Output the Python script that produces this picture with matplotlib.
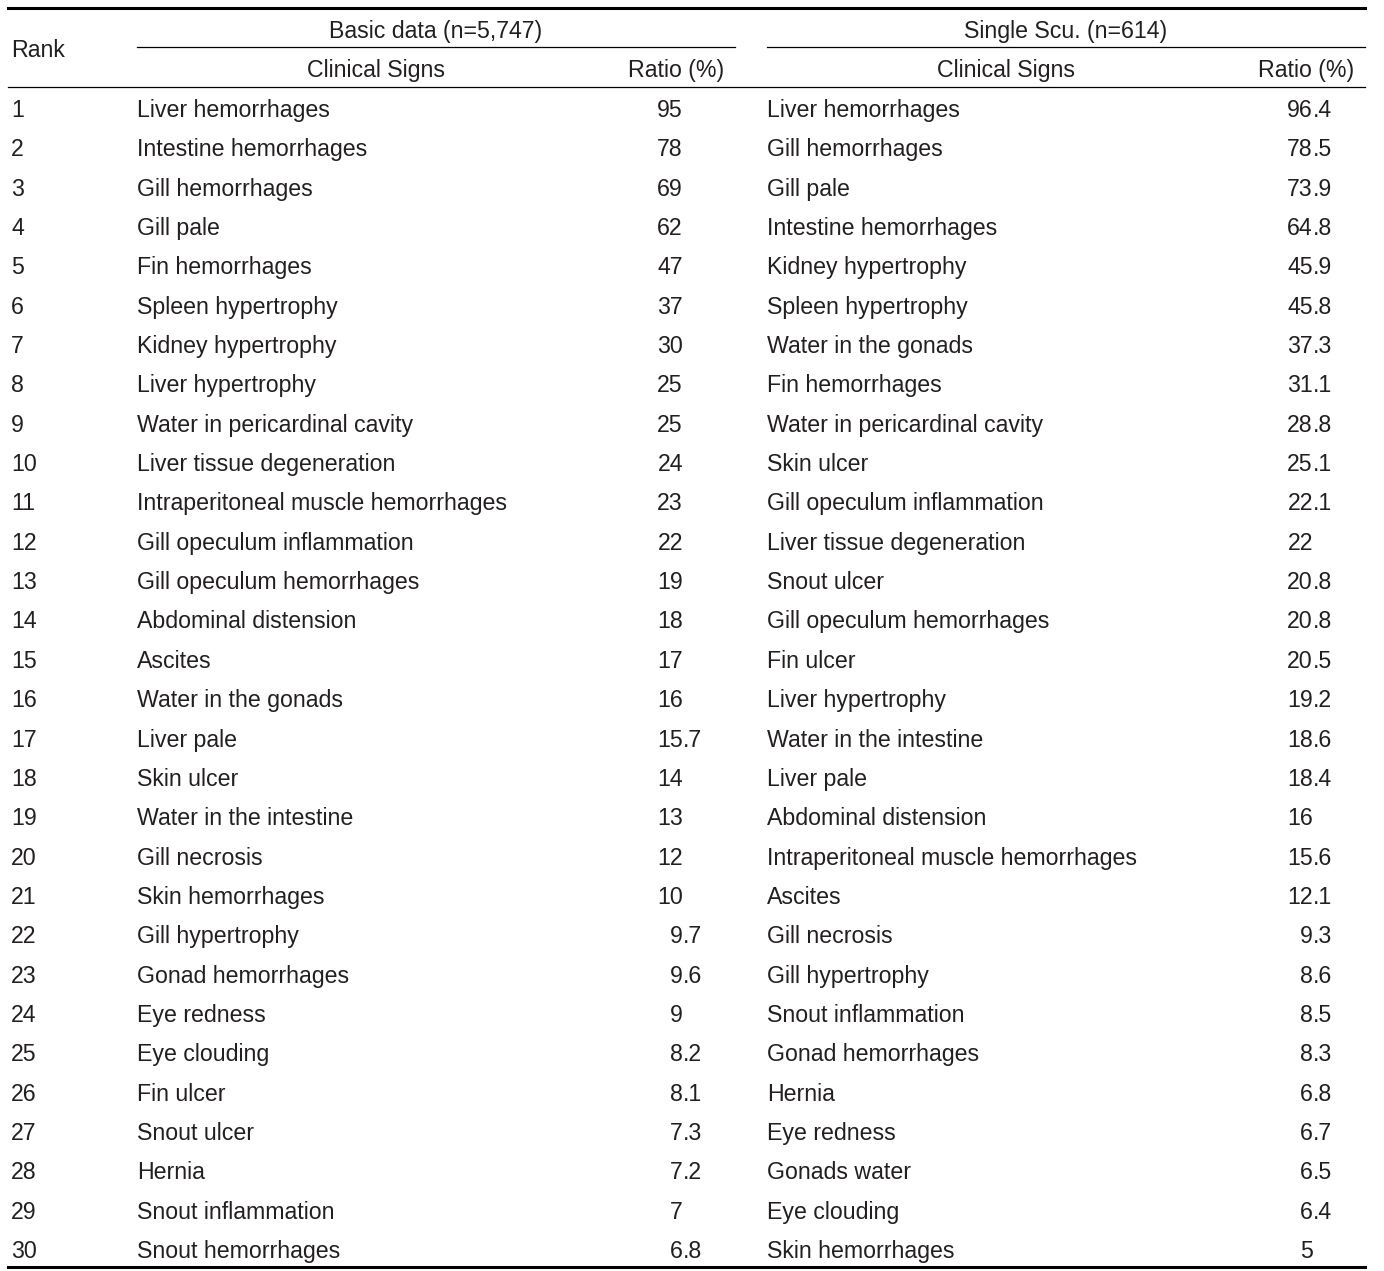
import matplotlib
matplotlib.use("Agg")
import matplotlib.pyplot as plt

plt.rcParams["font.family"] = ["Liberation Sans", "DejaVu Sans"]

ranks = list(range(1, 31))

basic_signs = [
    "Liver hemorrhages", "Intestine hemorrhages", "Gill hemorrhages", "Gill pale",
    "Fin hemorrhages", "Spleen hypertrophy", "Kidney hypertrophy", "Liver hypertrophy",
    "Water in pericardinal cavity", "Liver tissue degeneration",
    "Intraperitoneal muscle hemorrhages", "Gill opeculum inflammation",
    "Gill opeculum hemorrhages", "Abdominal distension", "Ascites",
    "Water in the gonads", "Liver pale", "Skin ulcer", "Water in the intestine",
    "Gill necrosis", "Skin hemorrhages", "Gill hypertrophy", "Gonad hemorrhages",
    "Eye redness", "Eye clouding", "Fin ulcer", "Snout ulcer", "Hernia",
    "Snout inflammation", "Snout hemorrhages",
]
basic_ratio = ["95", "78", "69", "62", "47", "37", "30", "25", "25", "24",
               "23", "22", "19", "18", "17", "16", "15.7", "14", "13", "12",
               "10", "9.7", "9.6", "9", "8.2", "8.1", "7.3", "7.2", "7", "6.8"]

single_signs = [
    "Liver hemorrhages", "Gill hemorrhages", "Gill pale", "Intestine hemorrhages",
    "Kidney hypertrophy", "Spleen hypertrophy", "Water in the gonads",
    "Fin hemorrhages", "Water in pericardinal cavity", "Skin ulcer",
    "Gill opeculum inflammation", "Liver tissue degeneration", "Snout ulcer",
    "Gill opeculum hemorrhages", "Fin ulcer", "Liver hypertrophy",
    "Water in the intestine", "Liver pale", "Abdominal distension",
    "Intraperitoneal muscle hemorrhages", "Ascites", "Gill necrosis",
    "Gill hypertrophy", "Snout inflammation", "Gonad hemorrhages", "Hernia",
    "Eye redness", "Gonads water", "Eye clouding", "Skin hemorrhages",
]
single_ratio = ["96.4", "78.5", "73.9", "64.8", "45.9", "45.8", "37.3", "31.1",
                "28.8", "25.1", "22.1", "22", "20.8", "20.8", "20.5", "19.2",
                "18.6", "18.4", "16", "15.6", "12.1", "9.3", "8.6", "8.5", "8.3",
                "6.8", "6.7", "6.5", "6.4", "5"]

W, H = 1384, 1271
fig = plt.figure(figsize=(W / 100, H / 100), dpi=100)
ax = fig.add_axes([0, 0, 1, 1])
ax.set_xlim(0, W)
ax.set_ylim(H, 0)
ax.axis("off")

fs = 16.7
tc = "#231f20"
dyt = 2.5  # small vertical nudge for text centring

# rules
ax.plot([8, 1365], [8, 8], color="black", lw=2.2)
ax.plot([137, 735], [47, 47], color="black", lw=0.9)
ax.plot([767, 1365], [47, 47], color="black", lw=0.9)
ax.plot([8, 1365], [87, 87], color="black", lw=0.9)
ax.plot([8, 1365], [1267, 1267], color="black", lw=2.2)

# headers
ax.text(11, 48 + dyt, "Rank", fontsize=fs, color=tc, va="center", ha="left")
ax.text(436, 29 + dyt, "Basic data (n=5,747)", fontsize=fs, color=tc, va="center", ha="center")
ax.text(1066, 29 + dyt, "Single Scu. (n=614)", fontsize=fs, color=tc, va="center", ha="center")
for cx_sign, cx_ratio in [(376, 676), (1006, 1306)]:
    ax.text(cx_sign, 68 + dyt, "Clinical Signs", fontsize=fs, color=tc, va="center", ha="center")
    ax.text(cx_ratio, 68 + dyt, "Ratio (%)", fontsize=fs, color=tc, va="center", ha="center")


def ratio_text(x_dec, y, s):
    whole, _, frac = s.partition(".")
    ax.text(x_dec, y, whole, fontsize=fs, color=tc, va="center", ha="right")
    if frac:
        ax.text(x_dec, y, "." + frac, fontsize=fs, color=tc, va="center", ha="left")


y0, dy = 108, (1249 - 108) / 29
for i, r in enumerate(ranks):
    y = y0 + i * dy + dyt
    ax.text(11, y, str(r), fontsize=fs, color=tc, va="center", ha="left")
    ax.text(137, y, basic_signs[i], fontsize=fs, color=tc, va="center", ha="left")
    ratio_text(683, y, basic_ratio[i])
    ax.text(767, y, single_signs[i], fontsize=fs, color=tc, va="center", ha="left")
    ratio_text(1313, y, single_ratio[i])

fig.savefig("out.png", dpi=100)
